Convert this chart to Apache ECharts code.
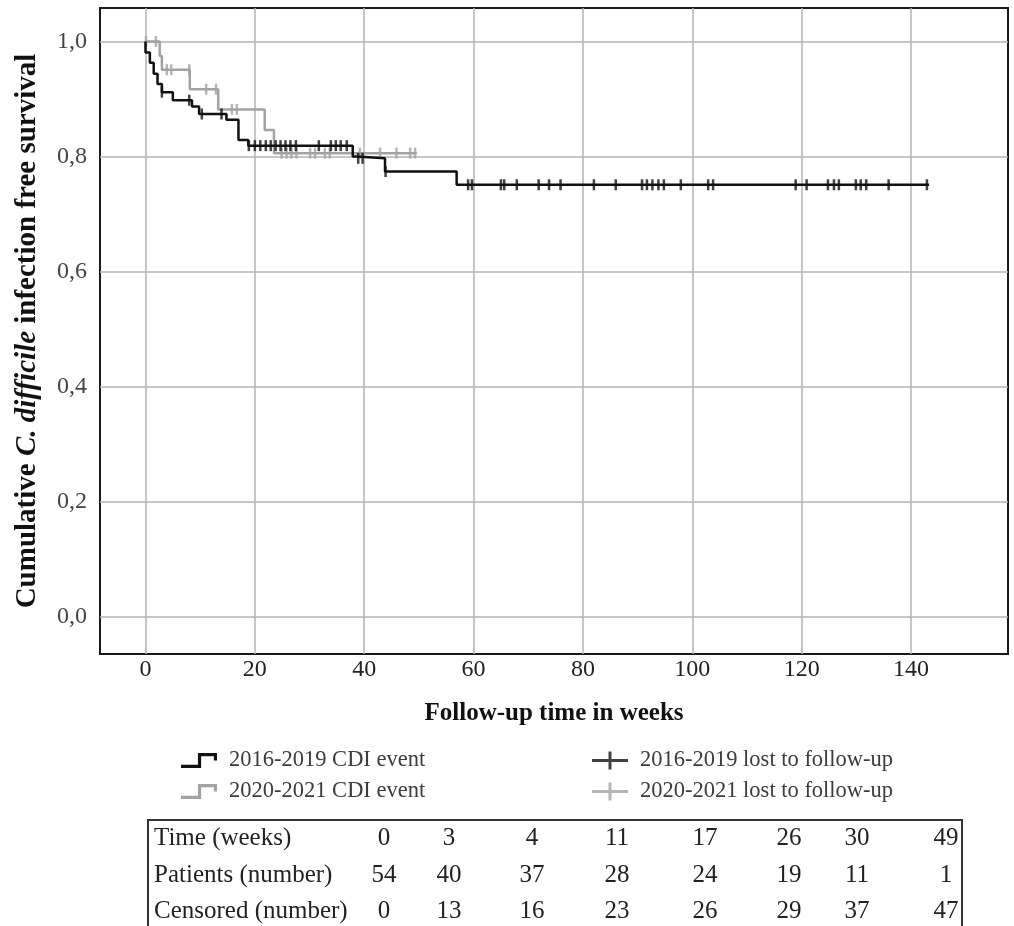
<!DOCTYPE html>
<html>
<head>
<meta charset="utf-8">
<script src="https://cdn.jsdelivr.net/npm/echarts@6/dist/echarts.min.js"></script>
<style>
  html, body { margin: 0; padding: 0; background: #fff; }
  #chart { width: 1014px; height: 926px; }
</style>
</head>
<body>
<div id="chart"></div>
<script>
// 2016-2019 group: step points (weeks, survival)
const blackTimes = [0, 0, 0.8, 1.5, 2.2, 3.0, 5.0, 8.5, 9.8, 14.8, 17.0, 18.8, 37.9, 38.6, 43.8, 56.9, 143.3];
const blackSurv  = [1.0, 0.981, 0.963, 0.944, 0.926, 0.912, 0.898, 0.887, 0.874, 0.864, 0.829, 0.819, 0.800, 0.797, 0.774, 0.751, 0.751];
// 2016-2019 lost to follow-up (weeks)
const blackCensor = [3.0, 8.0, 10.3, 13.9, 18.9, 20.0, 21.0, 22.0, 22.9, 23.8, 24.7, 25.6, 26.5, 27.5, 31.7, 33.9, 34.8, 35.7, 36.8,
  38.9, 39.7, 43.9, 59.0, 59.7, 65.0, 65.6, 67.9, 71.9, 73.8, 75.9, 82.0, 86.0, 90.8, 91.7, 92.7, 93.8, 94.8, 97.9,
  102.9, 103.8, 118.9, 120.9, 124.8, 125.9, 126.8, 129.9, 130.8, 131.8, 135.9, 142.9];

// 2020-2021 group
const grayTimes = [0, 2.6, 3.0, 8.1, 13.3, 21.8, 23.5, 49.6];
const graySurv  = [1.0, 0.975, 0.951, 0.917, 0.882, 0.846, 0.806, 0.806];
const grayCensor = [0.1, 1.9, 3.9, 4.7, 8.0, 11.1, 12.9, 15.8, 16.7, 24.9, 25.8, 26.7, 27.6, 30.1, 31.0, 32.8, 33.7,
  39.2, 42.9, 45.9, 48.4, 49.3];

const xTicks = [0, 20, 40, 60, 80, 100, 120, 140];
const yTicks = [0, 0.2, 0.4, 0.6, 0.8, 1.0];

// number-at-risk table
const tableRowLabels = ["Time (weeks)", "Patients (number)", "Censored (number)"];
const tableTime = [0, 3, 4, 11, 17, 26, 30, 49];
const tablePatients = [54, 40, 37, 28, 24, 19, 11, 1];
const tableCensored = [0, 13, 16, 23, 26, 29, 37, 47];

const FONT = "Liberation Serif";
const BLACK = "#111111";
const GRAY = "#a3a3a3";

function stepValue(times, surv, t) {
  let v = surv[0];
  for (let i = 0; i < times.length; i++) {
    if (times[i] <= t) v = surv[i];
  }
  return v;
}
function zip(a, b) {
  return a.map((v, i) => [v, b[i]]);
}
function censorPoints(ts, times, surv) {
  return ts.map((t) => [t, stepValue(times, surv, t)]);
}

const stepIcon = "path://M0,13 L16,13 L16,2 L34,2 L34,9 L31,9 L31,5 L19,5 L19,16 L0,16 Z";
const crossIcon = "path://M0,7.5 L16.5,7.5 L16.5,0 L19.5,0 L19.5,7.5 L36,7.5 L36,10.5 L19.5,10.5 L19.5,18 L16.5,18 L16.5,10.5 L0,10.5 Z";

// table graphics
const colX = [384, 449, 532, 617, 705, 789, 857, 946];
const rowY = [838, 875, 911];
let tableGraphic = [
  {
    type: "rect",
    shape: { x: 148, y: 820, width: 814, height: 130 },
    style: { fill: "none", stroke: "#333", lineWidth: 2 }
  }
];
[tableTime, tablePatients, tableCensored].forEach((row, r) => {
  tableGraphic.push({
    type: "text",
    x: 154,
    y: rowY[r],
    style: { text: tableRowLabels[r], font: "25px " + FONT, fill: "#222", verticalAlign: "middle", align: "left" }
  });
  row.forEach((v, c) => {
    tableGraphic.push({
      type: "text",
      x: colX[c],
      y: rowY[r],
      style: { text: String(v), font: "25px " + FONT, fill: "#222", verticalAlign: "middle", align: "center" }
    });
  });
});

const legendText = { fontFamily: FONT, fontSize: 22.5, color: "#3c3c3c", padding: [0, 0, 0, 7] };

const myChart = echarts.init(document.getElementById("chart"));
const option = {
  animation: false,
  backgroundColor: "#fff",
  grid: {
    left: 100,
    top: 8,
    right: 6,
    bottom: 272,
    show: true,
    borderColor: "#1a1a1a",
    borderWidth: 2,
    backgroundColor: "transparent"
  },
  xAxis: {
    type: "value",
    min: -8.32,
    max: 157.73,
    name: "Follow-up time in weeks",
    nameLocation: "middle",
    nameGap: 47,
    nameTextStyle: { fontFamily: FONT, fontSize: 25, fontWeight: "bold", color: "#111" },
    axisLine: { show: false },
    axisTick: { show: false, customValues: xTicks },
    axisLabel: {
      customValues: xTicks,
      margin: 4,
      fontFamily: FONT,
      fontSize: 24,
      color: "#222"
    },
    splitLine: { show: true, lineStyle: { color: "#b3b3b3", width: 1.5 } }
  },
  yAxis: {
    type: "value",
    min: -0.0643,
    max: 1.0582,
    name: "{b|Cumulative }{i|C. difficile}{b| infection free survival}",
    nameLocation: "middle",
    nameRotate: 90,
    nameGap: 58,
    nameTextStyle: {
      rich: {
        b: { fontFamily: FONT, fontSize: 29, fontWeight: "bold", color: "#111" },
        i: { fontFamily: FONT, fontSize: 29, fontWeight: "bold", fontStyle: "italic", color: "#111" }
      }
    },
    axisLine: { show: false },
    axisTick: { show: false, customValues: yTicks },
    axisLabel: {
      customValues: yTicks,
      margin: 13,
      fontFamily: FONT,
      fontSize: 24,
      color: "#444",
      formatter: (v) => v.toFixed(1).replace(".", ",")
    },
    splitLine: { show: true, lineStyle: { color: "#b3b3b3", width: 1.5 } }
  },
  legend: [
    {
      orient: "vertical",
      left: 176,
      top: 744,
      itemGap: 8,
      itemWidth: 36,
      itemHeight: 18,
      textStyle: legendText,
      data: [
        { name: "2016-2019 CDI event", icon: stepIcon, itemStyle: { color: BLACK } },
        { name: "2020-2021 CDI event", icon: stepIcon, itemStyle: { color: GRAY } }
      ]
    },
    {
      orient: "vertical",
      left: 587,
      top: 744,
      itemGap: 8,
      itemWidth: 36,
      itemHeight: 18,
      textStyle: legendText,
      data: [
        { name: "2016-2019 lost to follow-up", icon: crossIcon, itemStyle: { color: BLACK } },
        { name: "2020-2021 lost to follow-up", icon: crossIcon, itemStyle: { color: GRAY } }
      ]
    }
  ],
  graphic: tableGraphic,
  series: [
    {
      name: "2020-2021 CDI event",
      type: "line",
      step: "end",
      symbol: "none",
      itemStyle: { color: GRAY },
      lineStyle: { color: GRAY, width: 2.5 },
      data: zip(grayTimes, graySurv),
      z: 2
    },
    {
      name: "2020-2021 lost to follow-up",
      type: "scatter",
      symbol: "rect",
      symbolSize: [2.5, 11],
      itemStyle: { color: GRAY },
      data: censorPoints(grayCensor, grayTimes, graySurv),
      z: 3
    },
    {
      name: "2016-2019 CDI event",
      type: "line",
      step: "end",
      symbol: "none",
      itemStyle: { color: BLACK },
      lineStyle: { color: BLACK, width: 2.5 },
      data: zip(blackTimes, blackSurv),
      z: 4
    },
    {
      name: "2016-2019 lost to follow-up",
      type: "scatter",
      symbol: "rect",
      symbolSize: [2.5, 11],
      itemStyle: { color: BLACK },
      data: censorPoints(blackCensor, blackTimes, blackSurv),
      z: 5
    }
  ]
};
myChart.setOption(option);
</script>
</body>
</html>
